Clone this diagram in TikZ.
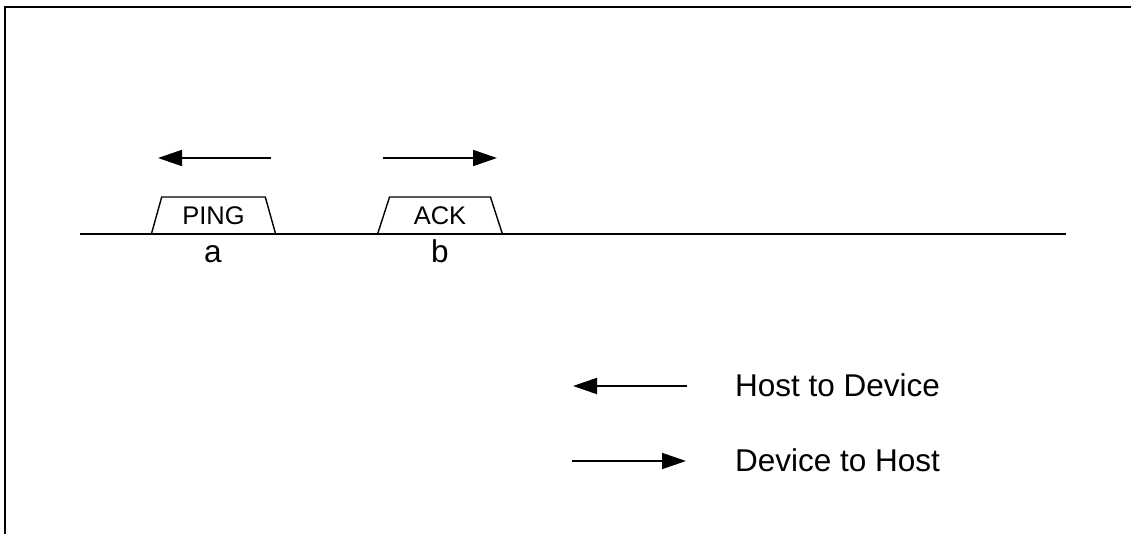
\documentclass[tikz,border=0pt]{standalone}
\usepackage{fontspec}
\setmainfont{Liberation Sans}
\usetikzlibrary{shapes.geometric,arrows.meta}

\begin{document}
\begin{tikzpicture} [x=1pt,y=-1pt,
  pkt/.style={trapezium,draw,line width=1.4pt,trapezium left angle=71,trapezium right angle=71,
    trapezium stretches=true,minimum width=125pt,minimum height=37pt,inner sep=0pt,
    font=\fontsize{25.5}{30}\selectfont},
  lbl/.style={font=\fontsize{31.5}{36}\selectfont,inner sep=0pt},
  dir/.style={line width=1.8pt,-{Triangle[length=24pt,width=16pt]}}]
\useasboundingbox (0,0) rectangle (1131,534);
\clip (0,0) rectangle (1131,534);
\draw [line width=2pt] (5,7) rectangle (1145,550);
% bus line
\coordinate (bl) at (80,234);
\coordinate (br) at (1066,234);
\draw [line width=1.8pt] (bl) -- (br);
% packets
\node [pkt] (ping) at (213.5,215.5) {PING};
\node [pkt] (ack) at (440,215.5) {ACK};
\node [lbl,anchor=base] (a) at (213,263) {a};
\node [lbl,anchor=base] (b) at (440,263) {b};
% directions
\coordinate (pingtail) at (271,158);
\coordinate (pinghead) at (158,158);
\coordinate (acktail) at (383,158);
\coordinate (ackhead) at (497,158);
\draw [dir] (pingtail) -- (pinghead);
\draw [dir] (acktail) -- (ackhead);
% legend
\coordinate (htdtail) at (687,386);
\coordinate (htdhead) at (573,386);
\coordinate (dthtail) at (572,461);
\coordinate (dthhead) at (686,461);
\draw [dir] (htdtail) -- (htdhead);
\draw [dir] (dthtail) -- (dthhead);
\node [lbl,anchor=base west] (htd) at (735,396) {Host to Device};
\node [lbl,anchor=base west] (dth) at (735,471) {Device to Host};
\end{tikzpicture}
\end{document}
